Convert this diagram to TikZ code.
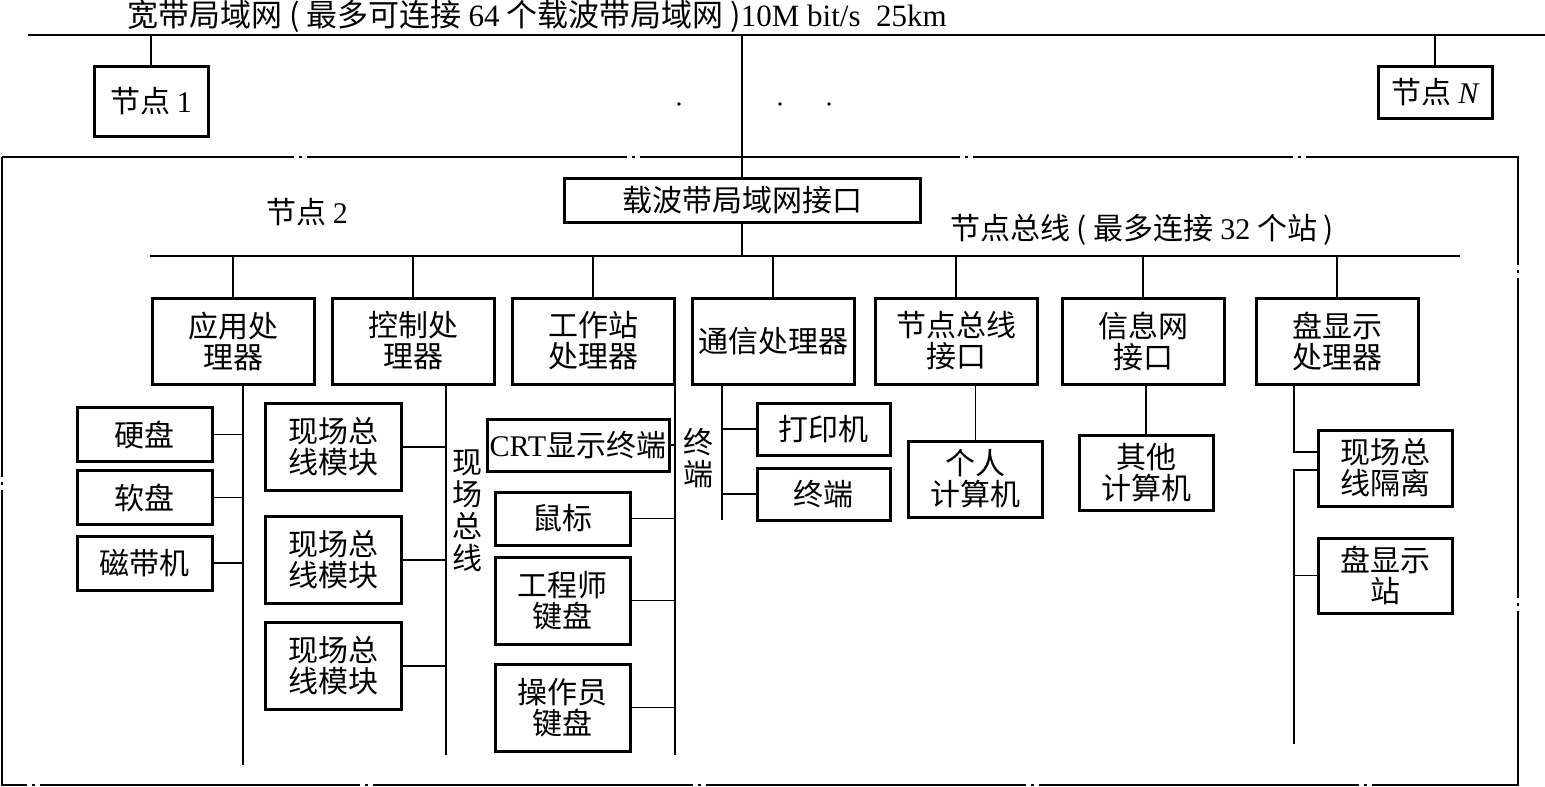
\documentclass[tikz,border=0pt]{standalone}
\usepackage{fontspec}
\setmainfont{Noto Sans CJK SC}
\newfontfamily\lat{Liberation Serif}
\usetikzlibrary{positioning}

\begin{document}
\begin{tikzpicture}[x=1pt, y=-1pt,
  blk/.style={rectangle, draw=black, line width=3pt, align=center,
              font=\fontsize{30}{31}\selectfont, inner sep=0pt,
              minimum width=135pt, minimum height=54pt},
  proc/.style={blk, minimum width=162pt, minimum height=86pt},
  tall/.style={blk, minimum height=87pt},
  lbl/.style={align=center, font=\fontsize{30}{32}\selectfont, inner sep=0pt},
  bus/.style={line width=2.6pt},
  wire/.style={line width=1.4pt},
  frame/.style={line width=2.6pt, dash pattern=on 320pt off 5pt on 3pt off 5pt}
]
\useasboundingbox (0,0) rectangle (1545,787);

% wide-band LAN
\coordinate (lanL) at (28,35);
\coordinate (lanR) at (1545,35);
\draw[bus] (lanL) -- (lanR);
\node[lbl, font=\fontsize{31}{32}\selectfont, anchor=west] (title) at (127,16)
  {宽带局域网~(~最多可连接 {\lat 64} 个载波带局域网~){\lat 10M bit/s~~25km}};
\node[blk, minimum width=114pt, minimum height=70pt] (n1) at (151,101) {节点 {\lat 1}};
\node[blk, minimum width=114pt, minimum height=52pt] (nN) at (1435,92) {节点 {\lat\itshape N}};
\draw[wire] (n1) -- (n1 |- lanL);
\draw[wire] (nN) -- (nN |- lanL);
\fill (679,104) circle (1.8pt) (780,104) circle (1.8pt) (829,104) circle (1.8pt);

% node 2
\draw[frame] (2,157) rectangle (1518,785);
\node[blk, minimum width=356pt, minimum height=44pt] (cif) at (742,200) {载波带局域网接口};
\draw[wire] (cif) -- (cif |- lanL);
\node[lbl] (n2) at (307,212) {节点 {\lat 2}};
\node[lbl] (nbl) at (1142,230) {节点总线~( 最多连接 {\lat 32} 个站~)};
\coordinate (nbL) at (150,256);
\coordinate (nbR) at (1460,256);
\draw[bus] (nbL) -- (nbR);
\draw[wire] (cif) -- (cif |- nbL);

% stations
\node[proc] (app) at (233,341)  {应用处\\理器};
\node[proc] (ctl) at (413,341)  {控制处\\理器};
\node[proc] (ws)  at (593,341)  {工作站\\处理器};
\node[proc] (com) at (773,341)  {通信处理器};
\node[proc] (nbi) at (956,341)  {节点总线\\接口};
\node[proc] (inf) at (1143,341) {信息网\\接口};
\node[proc] (dsp) at (1337,341) {盘显示\\处理器};
\foreach \s in {app,ctl,ws,com,nbi,inf,dsp}
  \draw[wire] (\s) -- (\s |- nbL);

% application processor
\node[blk] (hd)   at (144.5,434.5) {硬盘};
\node[blk] (fd)   at (144.5,497.5) {软盘};
\node[blk] (tape) at (144.5,563)   {磁带机};
\coordinate (appE) at (243,765);
\draw[wire] (app.south -| appE) -- (appE);
\foreach \s in {hd,fd,tape}
  \draw[wire] (\s) -- (\s -| appE);

% control processor
\node[tall, minimum width=136pt] (fb1) at (333,447) {现场总\\线模块};
\node[tall, minimum width=136pt] (fb2) at (333,560) {现场总\\线模块};
\node[tall, minimum width=136pt] (fb3) at (333,666) {现场总\\线模块};
\coordinate (ctlE) at (446,755);
\draw[wire] (ctl.south -| ctlE) -- (ctlE);
\foreach \s in {fb1,fb2,fb3}
  \draw[wire] (\s) -- (\s -| ctlE);
\node[lbl] (fbus) at (467,511) {现\\场\\总\\线};

% workstation processor
\node[blk, minimum width=182pt, minimum height=52pt] (crt) at (578,445) {{\lat CRT}显示终端};
\node[blk, minimum height=53pt] (mouse) at (562.5,518.5) {鼠标};
\node[tall] (eng) at (562.5,600.5) {工程师\\键盘};
\node[tall] (op)  at (562.5,707.5) {操作员\\键盘};
\coordinate (wsE) at (675,755);
\draw[wire] (ws.south -| wsE) -- (wsE);
\foreach \s in {crt,mouse,eng,op}
  \draw[wire] (\s) -- (\s -| wsE);
\node[lbl] (tml) at (698,458) {终\\端};

% communication processor
\node[blk, minimum width=133pt, minimum height=52pt] (prn)  at (823.5,429) {打印机};
\node[blk, minimum width=133pt, minimum height=52pt] (term) at (823.5,494) {终端};
\coordinate (comE) at (722,520);
\draw[wire] (com.south -| comE) -- (comE);
\foreach \s in {prn,term}
  \draw[wire] (\s) -- (\s -| comE);

% node-bus and info-net interfaces
\node[blk, minimum width=134pt, minimum height=76pt] (pc) at (975.5,479)  {个人\\计算机};
\node[blk, minimum width=134pt, minimum height=75pt] (oc) at (1146,472.5) {其他\\计算机};
\draw[wire] (pc |- nbi.south) -- (pc);
\draw[wire] (oc |- inf.south) -- (oc);

% disk display processor
\node[blk, minimum width=134pt, minimum height=76pt] (iso) at (1385,468)   {现场总\\线隔离};
\node[blk, minimum width=134pt, minimum height=75pt] (dss) at (1385,575.5) {盘显示\\站};
\coordinate (isoIn)  at (1294,452);
\coordinate (isoOut) at (1294,470);
\coordinate (dspE)   at (1294,744);
\draw[wire] (dsp.south -| isoIn) -- (isoIn) -- (isoIn -| iso.west);
\draw[wire] (isoOut -| iso.west) -- (isoOut) -- (dspE);
\draw[wire] (dss) -- (dss -| dspE);
\end{tikzpicture}
\end{document}
